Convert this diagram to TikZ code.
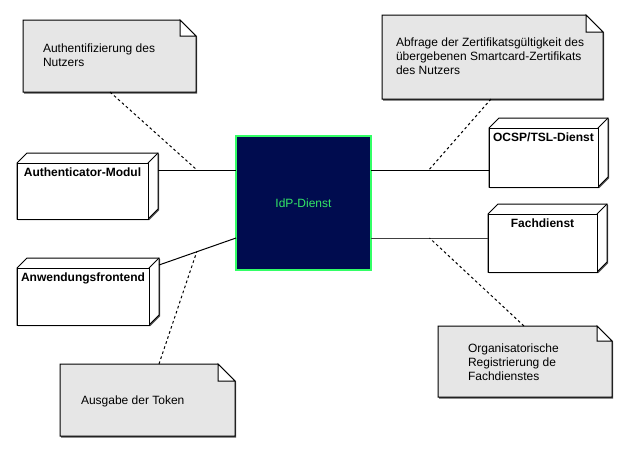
\documentclass[tikz,border=0pt]{standalone}
\usepackage{fontspec}
\setmainfont{Liberation Sans}
\usetikzlibrary{calc}
\definecolor{notefill}{HTML}{E6E6E6}
\definecolor{idpfill}{HTML}{000C4F}
\definecolor{idpline}{HTML}{33FF66}
\definecolor{idptext}{HTML}{33E666}
\definecolor{shadowc}{HTML}{505050}

% device box: name, x1, y1, x2, y2, label
\newcommand{\mydevice}[6]{%
  \node[devface, minimum width={(#4-#2)*0.75pt}, minimum height={(#5-#3)*0.75pt}, anchor=north west] (#1) at (#2,#3) {};
  \fill[shadowc] ($(#1.north west)+(11.2,-8.8)$) -- ($(#1.north east)+(11.2,-8.8)$) -- ($(#1.south east)+(11.2,-8.8)$) -- ($(#1.south east)+(1.2,1.2)$) -- ($(#1.south west)+(1.2,1.2)$) -- cycle;
  \filldraw[devline] (#1.north west) -- ++(10,-10) -- ($(#1.north east)+(10,-10)$) -- ($(#1.south east)+(10,-10)$) -- (#1.south east) -- (#1.south west) -- cycle;
  \draw[devline] (#1.north west) rectangle (#1.south east);
  \draw[devline] (#1.north east) -- ++(10,-10);
  \node[devlabel, anchor=base] at ($(#1.north)+(0,13)$) {#6};
}
% note: name, x1, y1, x2, y2, fold
\newcommand{\mynote}[6]{%
  \node[minimum width={(#4-#2)*0.75pt}, minimum height={(#5-#3)*0.75pt}, anchor=north west] (#1) at (#2,#3) {};
  \fill[shadowc] ($(#1.north west)+(1.2,1.5)$) -- ($(#1.north east)+(1.2-#6,1.5)$) -- ($(#1.north east)+(1.2,#6+1.5)$) -- ($(#1.south east)+(1.2,1.5)$) -- ($(#1.south west)+(1.2,1.5)$) -- cycle;
  \filldraw[noteline] (#1.north west) -- ($(#1.north east)+(-#6,0)$) -- ($(#1.north east)+(0,#6)$) -- (#1.south east) -- (#1.south west) -- cycle;
  \filldraw[noteline, fill=white] ($(#1.north east)+(-#6,0)$) -- ($(#1.north east)+(-#6,#6)$) -- ($(#1.north east)+(0,#6)$) -- cycle;
}

\begin{document}
\begin{tikzpicture}[x=0.75pt, y=-0.75pt,
  every node/.style={inner sep=0pt, outer sep=0pt},
  devface/.style={draw=none},
  devline/.style={draw=black, line width=0.75pt, fill=white, line join=miter},
  devlabel/.style={font=\fontsize{9pt}{10.5pt}\selectfont\bfseries, text=black},
  noteline/.style={draw=black, line width=0.75pt, fill=notefill},
  notetext/.style={font=\fontsize{9pt}{10.5pt}\selectfont, text=black, anchor=base west},
  idpbox/.style={draw=idpline, fill=idpfill, line width=0.9pt, text=idptext, font=\fontsize{9pt}{10.5pt}\selectfont},
  conn/.style={draw=black, line width=0.75pt},
  dashconn/.style={draw=black, line width=0.75pt, dash pattern=on 2pt off 2pt}
]
\fill[white] (0,0) rectangle (626,451);
\useasboundingbox (0,0) rectangle (626,451);

% notes
\mynote{n1}{23}{20}{196}{92}{16}
\node[notetext] at (43,52) {\begin{tabular}[t]{@{}l@{}}Authentifizierung des\\Nutzers\end{tabular}};
\mynote{n2}{382}{15}{603}{99}{17}
\node[notetext] at (396,46.5) {\begin{tabular}[t]{@{}l@{}}Abfrage der Zertifikatsgültigkeit des\\übergebenen Smartcard-Zertifikats\\des Nutzers\end{tabular}};
\mynote{n3}{438}{326}{612}{397}{15}
\node[notetext] at (468,352) {\begin{tabular}[t]{@{}l@{}}Organisatorische\\Registrierung de\\Fachdienstes\end{tabular}};
\mynote{n4}{60}{364}{235}{436}{17}
\node[notetext] at (81,404) {Ausgabe der Token};

% devices
\mydevice{auth}{17}{163}{148}{219}{Authenticator-Modul}
\mydevice{anw}{17}{268}{149}{325}{Anwendungsfrontend}
\mydevice{ocsp}{489}{128}{598}{187}{OCSP/TSL-Dienst}
\mydevice{fach}{488}{214}{597}{272}{Fachdienst}

% IdP
\node[idpbox, minimum width=101.25pt, minimum height=100.5pt, anchor=north west] (idp) at (236,136) {IdP-Dienst};

% connectors
\draw[conn] ($(auth.north east)+(10,7)$) coordinate (p1) -- (idp.west |- p1) coordinate[pos=0.5] (m1);
\draw[conn] ($(anw.north east)+(10,-3)$) -- ($(idp.north west)+(0,102)$) coordinate[pos=0.49] (m2);
\draw[conn] ($(ocsp.north west)+(0,42)$) coordinate (p3) -- (idp.east |- p3) coordinate[pos=0.51] (m3);
\draw[conn, draw=black!75] ($(fach.north west)+(0,24)$) coordinate (p4) -- (idp.east |- p4) coordinate[pos=0.5] (m4);

% dashed note links
\draw[dashconn] ($(n1.south west)+(87,0)$) -- (m1);
\draw[dashconn] ($(n2.south west)+(109,0)$) -- (m3);
\draw[dashconn] ($(n3.north west)+(86,0)$) -- (m4);
\draw[dashconn] ($(n4.north west)+(99,0)$) -- (m2);
\end{tikzpicture}
\end{document}
